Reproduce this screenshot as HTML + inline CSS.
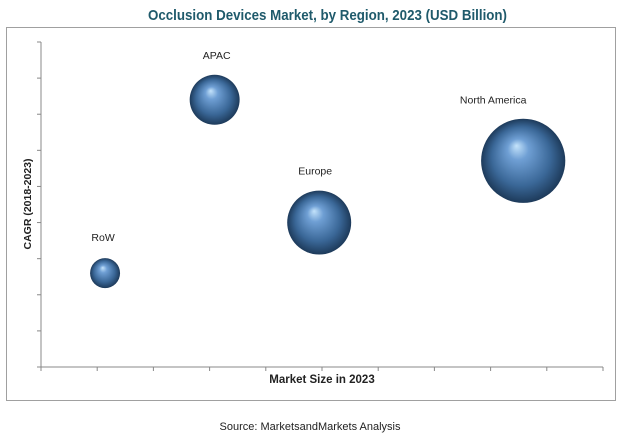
<!DOCTYPE html>
<html><head><meta charset="utf-8"><style>
body{margin:0;background:#fff;}
svg{display:block;font-family:"Liberation Sans",sans-serif;}
</style></head><body>
<svg id="chart" width="620" height="438" viewBox="0 0 620 438">
<defs>
<radialGradient id="ball" cx="0.5" cy="0.5" r="0.5" fx="0.42" fy="0.32">
<stop offset="0" stop-color="#c4e3fb"/>
<stop offset="0.25" stop-color="#6f9fd4"/>
<stop offset="0.7" stop-color="#3a6797"/>
<stop offset="1" stop-color="#1d3a5a"/>
</radialGradient>
</defs>
<text x="148" y="20" textLength="359" lengthAdjust="spacingAndGlyphs" font-weight="bold" font-size="15" fill="#1f5a6b">Occlusion Devices Market, by Region, 2023 (USD Billion)</text>
<rect x="6.5" y="27.5" width="609" height="373" fill="none" stroke="#a0a0a0" stroke-width="1"/>
<g id="axes"></g>
<g id="bubbles"></g>
<text x="322" y="383" text-anchor="middle" font-size="11.5" font-weight="bold" fill="#222">Market Size in 2023</text>
<text transform="translate(31,204) rotate(-90)" text-anchor="middle" font-size="10.5" font-weight="bold" fill="#222">CAGR (2018-2023)</text>
<text x="310" y="430" text-anchor="middle" font-size="11" fill="#222">Source: MarketsandMarkets Analysis</text>
</svg>
<script>
const regions = ["RoW","APAC","Europe","North America"];
const marketSize = [1.14,3.09,4.95,8.58];
const cagr = [2.6,7.4,4.0,5.71];
const bubbleSize = [0.9,2.5,4.1,7.1];
const xTickCount = 10;
const yTickCount = 9;

const NS="http://www.w3.org/2000/svg";
const x0=41,x1=603,y0=367,y1=42;
const xs=v=>x0+v/xTickCount*(x1-x0);
const ys=v=>y0-v/yTickCount*(y0-y1);
const rs=v=>15.8*Math.sqrt(v);
function mk(tag,attrs,parent){const e=document.createElementNS(NS,tag);for(const k in attrs)e.setAttribute(k,attrs[k]);parent.appendChild(e);return e;}
const ax=document.getElementById('axes');
let l=mk('line',{x1:x0,y1:y0,x2:x1,y2:y0,stroke:'#888'},ax);


l=mk('line',{x1:x0,y1:y0,x2:x0,y2:y1,stroke:'#888'},ax);


for(let i=0;i<=xTickCount;i++){const t=mk('line',{x1:xs(i),y1:y0,x2:xs(i),y2:y0+4,stroke:'#888'},ax);

}
for(let i=0;i<=yTickCount;i++){const t=mk('line',{x1:x0-4,y1:ys(i),x2:x0,y2:ys(i),stroke:'#888'},ax);

}
const bg=document.getElementById('bubbles');
const lblDx=[2,-2,4,30], lblDy=[17,16,16,15];
regions.forEach((r,i)=>{
const cx=xs(marketSize[i]),cy=ys(cagr[i]),rad=rs(bubbleSize[i]);
const c=mk('circle',{cx:cx,cy:cy,r:rad,fill:'url(#ball)'},bg);


const t=mk('text',{x:cx-lblDx[i],y:cy-rad-lblDy[i],'text-anchor':'middle','font-size':'10.5',fill:'#222'},bg);
t.textContent=r;


});
</script>
</body></html>
